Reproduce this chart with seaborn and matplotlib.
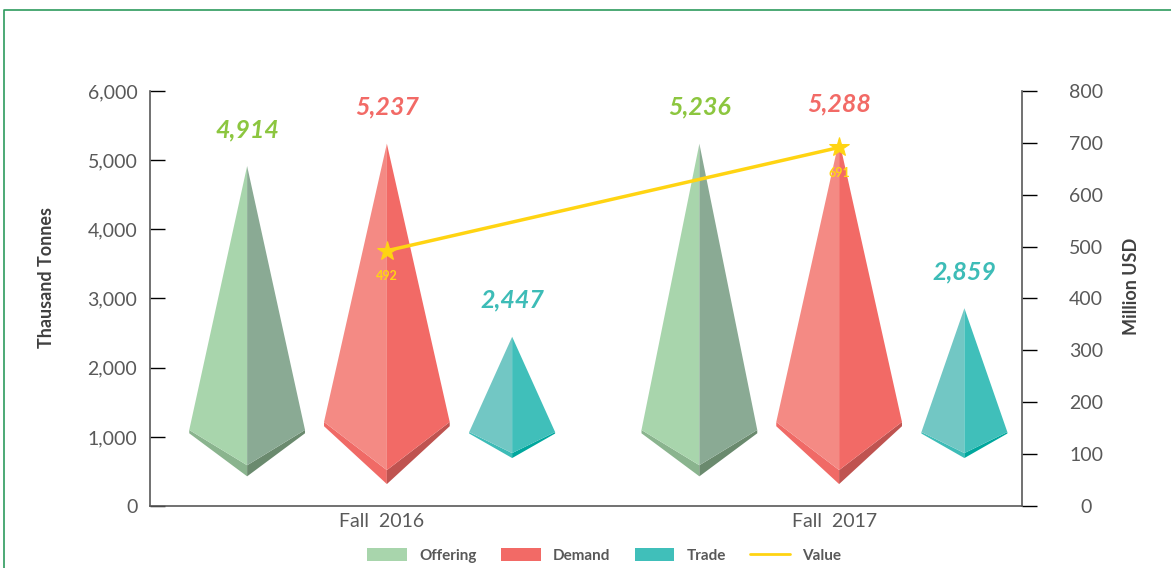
import matplotlib.pyplot as plt
import seaborn as sns
from matplotlib.patches import Polygon, Patch
from matplotlib.lines import Line2D

# data
seasons = ['Fall  2016', 'Fall  2017']
series = ['Offering', 'Demand', 'Trade']
offering = [4914, 5236]
demand = [5237, 5288]
trade = [2447, 2859]
value_usd = [492, 691]

# look of each pyramid (offset from group centre, half width, base geometry, colours)
styles = {
    'Offering': dict(off=-0.298, hw=0.128, corner=1100, ctop=590, cbot=430,
                     faces=['#A8D5AC', '#8AAA94', '#8AB48E', '#6A8A6E'], label='#8CC63F'),
    'Demand': dict(off=0.011, hw=0.139, corner=1215, ctop=520, cbot=318,
                   faces=['#F48A84', '#F26A66', '#F06A66', '#BF5350'], label='#F26A66'),
    'Trade': dict(off=0.288, hw=0.095, corner=1070, ctop=766, cbot=694,
                  faces=['#72C7C4', '#40BFBA', '#3DBCB7', '#00A79D'], label='#3DBCB7'),
}
LINE_COL = '#FFD412'
GREY = '#595959'

sns.set_theme(style='white')
plt.rcParams['font.family'] = ['Lato', 'DejaVu Sans']

fig = plt.figure(figsize=(11.71, 5.68), dpi=100)
ax = fig.add_axes([0.128, 0.109, 0.745, 0.731])
ax2 = ax.twinx()


def draw_pyramid(x, v, st):
    hw, corner, ctop, cbot = st['hw'], st['corner'], st['ctop'], st['cbot']
    side = 0.3 * (ctop - cbot)
    c1, c2, c3, c4 = st['faces']
    ax.add_patch(Polygon([(x - hw, corner), (x, ctop), (x, cbot), (x - hw, corner - side)],
                         closed=True, fc=c3, ec='none', zorder=2))
    ax.add_patch(Polygon([(x + hw, corner), (x, ctop), (x, cbot), (x + hw, corner - side)],
                         closed=True, fc=c4, ec='none', zorder=2))
    ax.add_patch(Polygon([(x, v), (x - hw, corner), (x, ctop)], closed=True,
                         fc=c1, ec='none', zorder=3))
    ax.add_patch(Polygon([(x, v), (x + hw, corner), (x, ctop)], closed=True,
                         fc=c2, ec='none', zorder=3))
    ax.annotate(f'{v:,}', (x, v), xytext=(0, 18), textcoords='offset points',
                ha='center', va='bottom', fontsize=18, fontweight='bold',
                fontstyle='italic', color=st['label'])


for name, vals in zip(series, [offering, demand, trade]):
    st = styles[name]
    for i, v in enumerate(vals):
        draw_pyramid(i + st['off'], v, st)

ax.set_xlim(-0.513, 1.416)
ax.set_ylim(0, 6000)
ax.set_yticks(range(0, 6001, 1000))
ax.set_yticklabels([f'{t:,}' for t in range(0, 6001, 1000)])
ax.set_xticks([0, 1])
ax.set_xticklabels(seasons)
ax.tick_params(axis='x', length=0, pad=5, labelsize=14, labelcolor=GREY)
ax.tick_params(axis='y', direction='in', length=11, width=1, color='black',
               pad=9, labelsize=14, labelcolor=GREY)
ax.set_ylabel('Thausand Tonnes', fontsize=13, fontweight='bold', color='#404040')
ax.yaxis.set_label_coords(-0.109, 0.55)
for s in ['top', 'right']:
    ax.spines[s].set_visible(False)
for s in ['left', 'bottom']:
    ax.spines[s].set_color(GREY)
    ax.spines[s].set_linewidth(1.2)

# value line on the secondary axis, at the demand pyramids
xv = [i + styles['Demand']['off'] for i in range(len(value_usd))]
sns.lineplot(x=xv, y=value_usd, ax=ax2, color=LINE_COL, lw=2.5, marker='*',
             markersize=15, markeredgecolor=LINE_COL, zorder=5)
for x, v in zip(xv, value_usd):
    ax2.annotate(f'{v}', (x, v), xytext=(0, -14), textcoords='offset points',
                 ha='center', va='top', fontsize=9, fontweight='bold', color=LINE_COL)

ax2.set_ylim(0, 800)
ax2.set_yticks(range(0, 801, 100))
ax2.tick_params(axis='y', direction='out', length=11, width=1, color='black',
                pad=35, labelsize=14, labelcolor=GREY)
for lab in ax2.get_yticklabels():
    lab.set_horizontalalignment('center')
ax2.set_ylabel('Million USD', fontsize=13, fontweight='bold', color='#404040')
ax2.yaxis.set_label_coords(1.115, 0.53)
for s in ['top', 'left', 'bottom']:
    ax2.spines[s].set_visible(False)
ax2.spines['right'].set_color(GREY)
ax2.spines['right'].set_linewidth(1.2)
ax2.grid(False)
ax.grid(False)

handles = [Patch(fc=styles[n]['faces'][0] if n == 'Offering' else styles[n]['faces'][1], ec='none')
           for n in series]
handles.append(Line2D([0], [0], color=LINE_COL, lw=2))
fig.legend(handles, series + ['Value'], loc='center', bbox_to_anchor=(0.516, 0.022),
           ncol=4, frameon=False, handlelength=2.6, handleheight=0.9, columnspacing=1.6,
           prop=dict(weight='bold', size=11), labelcolor=GREY)

# green frame of the original card
fig.add_artist(Line2D([0.003, 0.003, 1.0], [0.0, 0.982, 0.982], transform=fig.transFigure,
                      color='#2E9B5E', lw=1.2))

fig.savefig('out.png', dpi=100)
